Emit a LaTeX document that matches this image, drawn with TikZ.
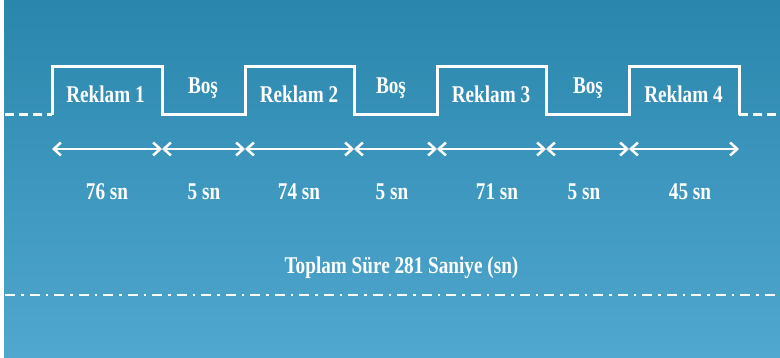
\documentclass[tikz,border=0pt]{standalone}
\usepackage{fontspec}
\setmainfont{Liberation Serif}[FakeStretch=0.8]
\usetikzlibrary{arrows.meta}
\definecolor{bgtop}{RGB}{42,134,172}
\definecolor{bgbot}{RGB}{80,167,207}
\tikzset{
  wave/.style={draw=white,line width=3pt,line join=miter},
  waveend/.style={draw=white,line width=3pt,dash pattern=on 9pt off 5pt},
  span/.style={draw=white,line width=2.5pt,{Straight Barb[length=7pt,width=13pt,line width=2.5pt]}-{Straight Barb[length=7pt,width=13pt,line width=2.5pt]}},
  lbl/.style={text=white,font=\fontsize{24}{28}\selectfont\bfseries,anchor=base,inner sep=0pt},
  sepline/.style={draw=white,line width=2.5pt,dash pattern=on 10pt off 6pt on 2.5pt off 6pt}
}
\begin{document}
\begin{tikzpicture}[x=1pt,y=-1pt]
\useasboundingbox (0,0) rectangle (780,358);
\shade[top color=bgtop,bottom color=bgbot] (0,0) rectangle (780,358);
\fill[white] (0,0) rectangle (4,358);
% waveform coordinates
\coordinate (a0) at (5,115);
\coordinate (l1) at (52,115);  \coordinate (h1) at (52,67);
\coordinate (h2) at (162,67);  \coordinate (l2) at (162,115);
\coordinate (l3) at (245,115); \coordinate (h3) at (245,67);
\coordinate (h4) at (354,67);  \coordinate (l4) at (354,115);
\coordinate (l5) at (437,115); \coordinate (h5) at (437,67);
\coordinate (h6) at (546,67);  \coordinate (l6) at (546,115);
\coordinate (l7) at (629,115); \coordinate (h7) at (629,67);
\coordinate (h8) at (739,67);  \coordinate (l8) at (739,115);
\coordinate (a9) at (780,115);
\draw[waveend] (a0) -- (l1);
\draw[wave] (l1) -- (h1) -- (h2) -- (l2) -- (l3) -- (h3) -- (h4) -- (l4) -- (l5) -- (h5) -- (h6) -- (l6) -- (l7) -- (h7) -- (h8) -- (l8);
\draw[waveend] (l8) -- (a9);
% labels
\node[lbl] (r1) at (105.5,103) {Reklam 1};
\node[lbl] (b1) at (203,94) {Boş};
\node[lbl] (r2) at (299,103) {Reklam 2};
\node[lbl] (b2) at (391,94) {Boş};
\node[lbl] (r3) at (491,103) {Reklam 3};
\node[lbl] (b3) at (588,94) {Boş};
\node[lbl] (r4) at (683.5,103) {Reklam 4};
% spans
\coordinate (t0) at (52,149);
\coordinate (t1) at (162,149);
\coordinate (t2) at (245,149);
\coordinate (t3) at (354,149);
\coordinate (t4) at (437,149);
\coordinate (t5) at (546,149);
\coordinate (t6) at (629,149);
\coordinate (t7) at (739,149);
\draw[span] (t0) -- (t1);
\draw[span] (t1) -- (t2);
\draw[span] (t2) -- (t3);
\draw[span] (t3) -- (t4);
\draw[span] (t4) -- (t5);
\draw[span] (t5) -- (t6);
\draw[span] (t6) -- (t7);
% durations
\node[lbl] (d1) at (107,200) {76 sn};
\node[lbl] (d2) at (204,200) {5 sn};
\node[lbl] (d3) at (299,200) {74 sn};
\node[lbl] (d4) at (392,200) {5 sn};
\node[lbl] (d5) at (497,200) {71 sn};
\node[lbl] (d6) at (584,200) {5 sn};
\node[lbl] (d7) at (690,200) {45 sn};
% total
\node[lbl] (tot) at (401.5,274) {Toplam Süre 281 Saniye (sn)};
\coordinate (s0) at (5,295);
\coordinate (s1) at (778,295);
\draw[sepline] (s0) -- (s1);
\end{tikzpicture}
\end{document}
